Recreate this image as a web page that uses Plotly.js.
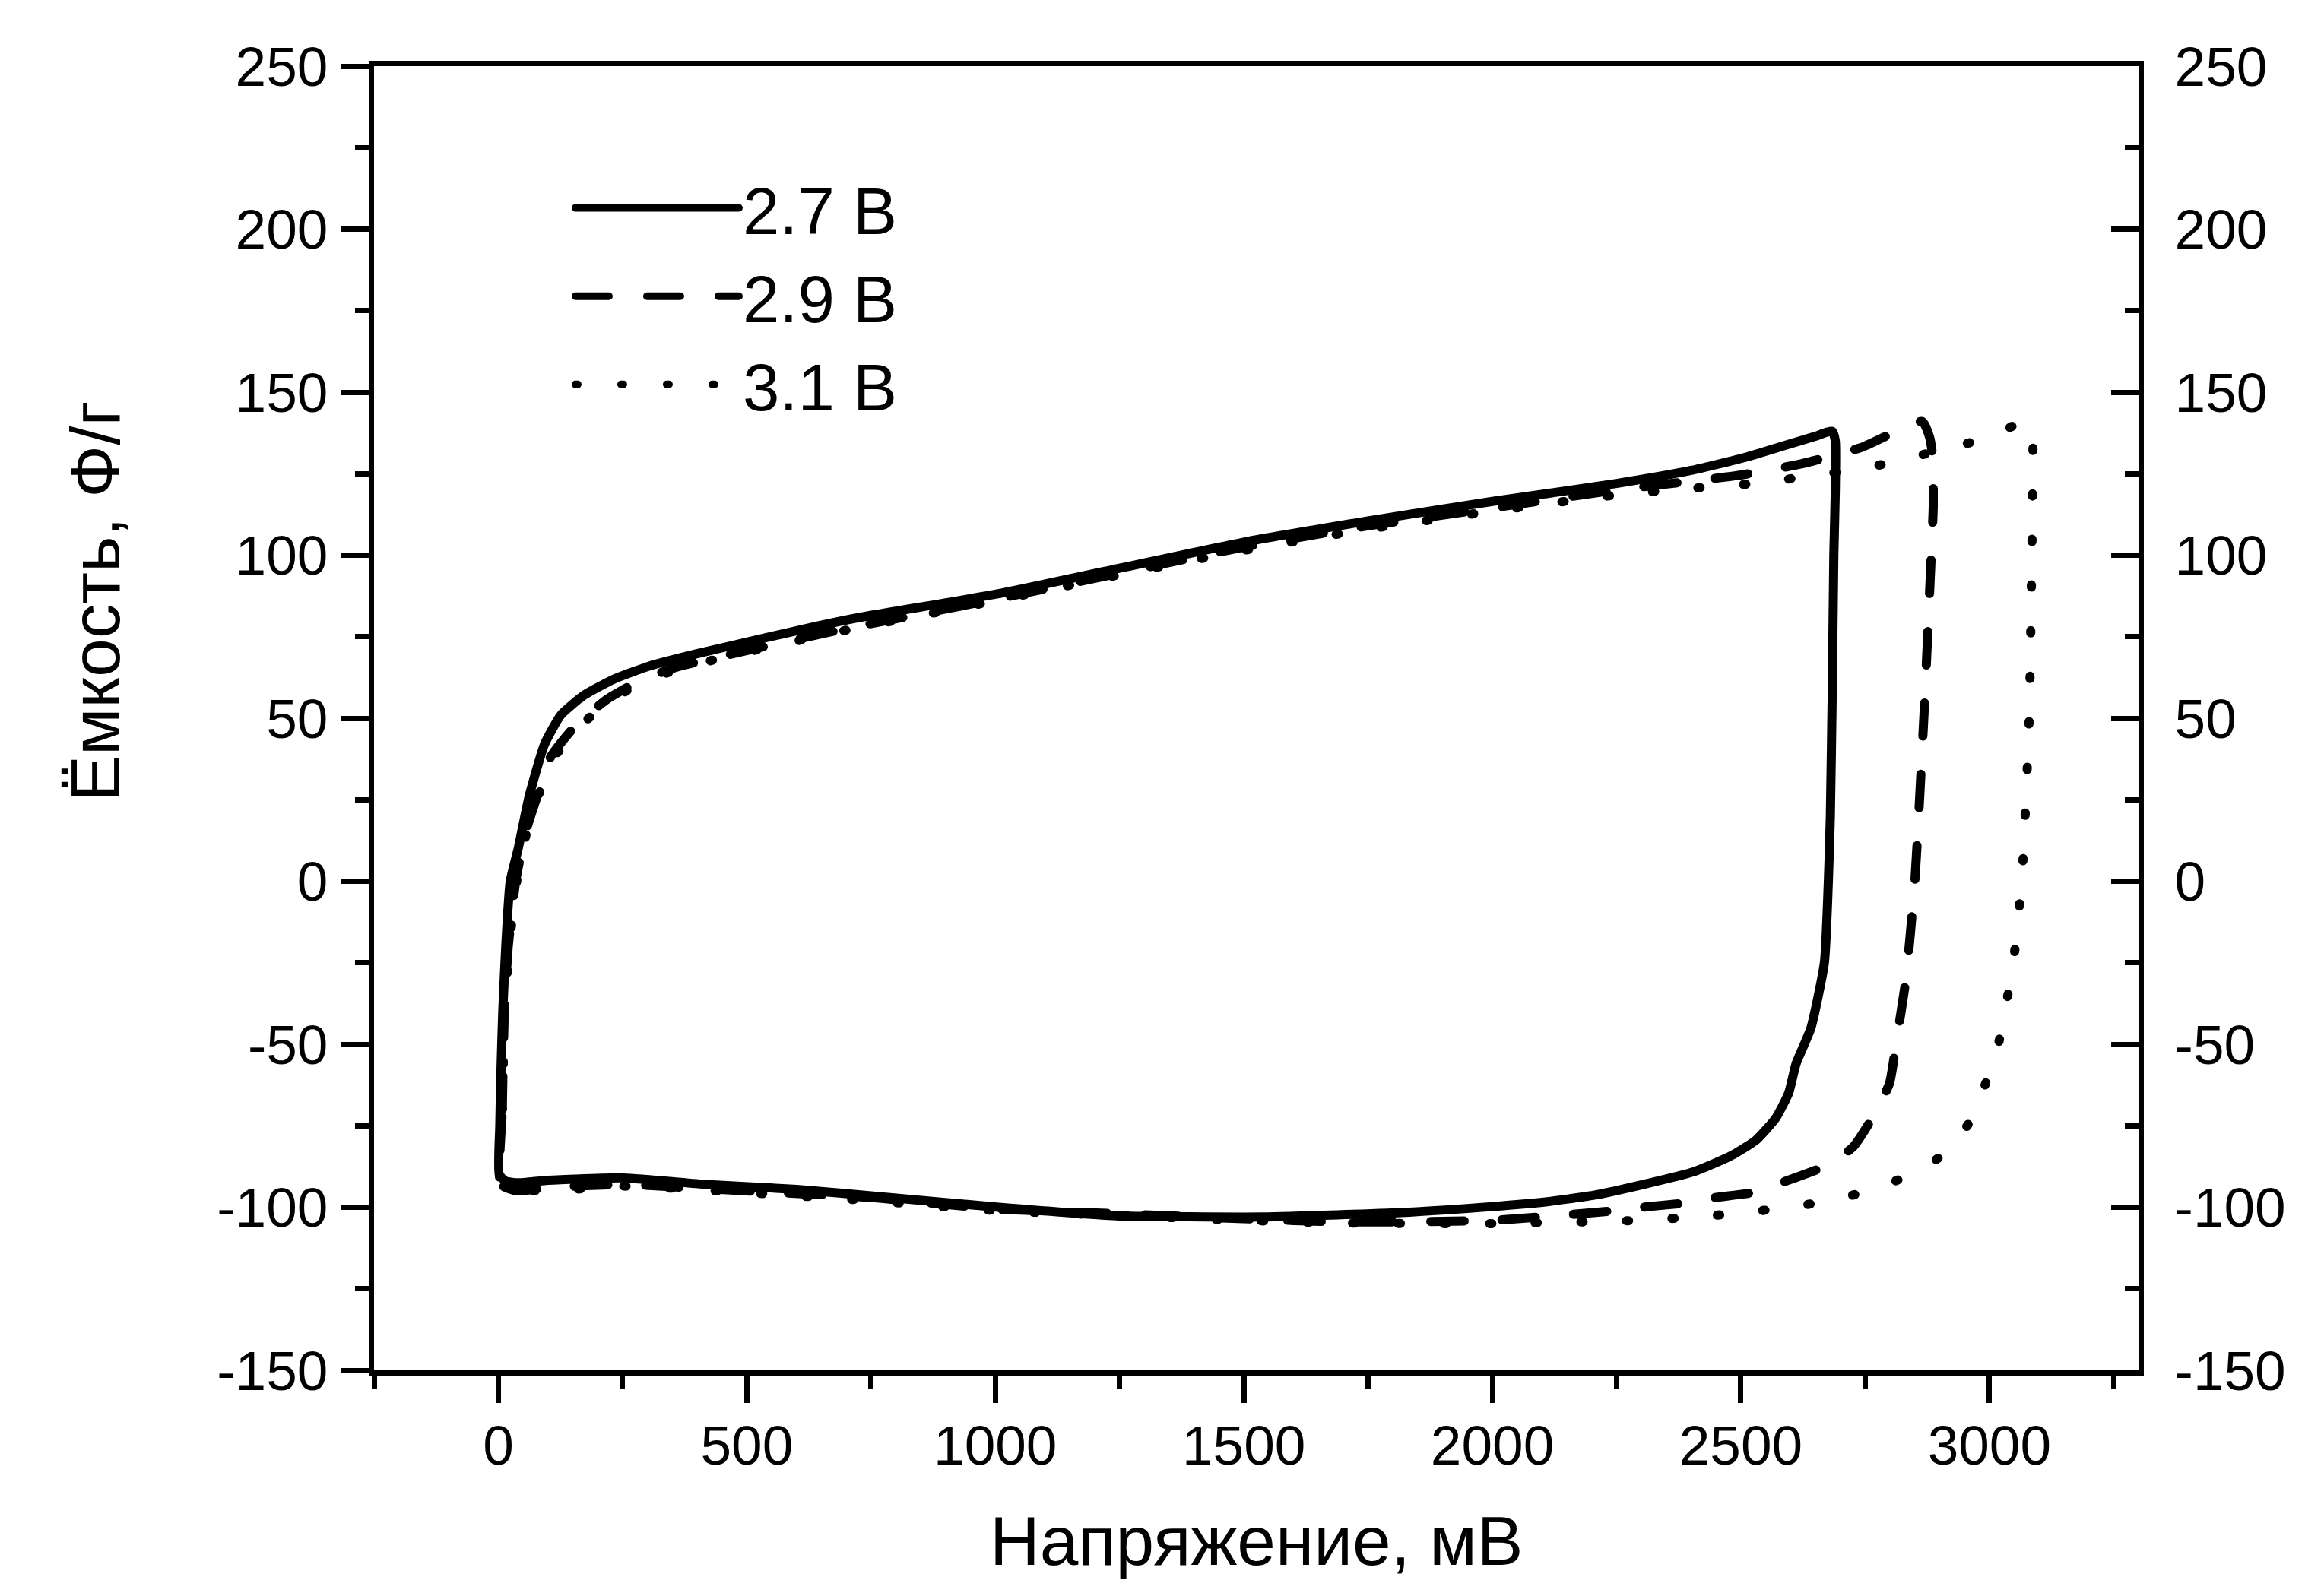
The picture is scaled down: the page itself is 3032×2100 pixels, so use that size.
<!DOCTYPE html>
<html>
<head>
<meta charset="utf-8">
<script src="https://cdn.plot.ly/plotly-3.0.1.min.js"></script>
<style>
  html, body { margin: 0; padding: 0; background: #fff; }
  #chart { width: 3032px; height: 2100px; }
  .scatterlayer .js-line, .legend .js-line { stroke-linecap: round !important; stroke-linejoin: round !important; }
</style>
</head>
<body>
<div id="chart"></div>
<script>
// ---- Data ----
const seriesNames = ["2.7 В", "2.9 В", "3.1 В"];

// 2.7 V loop: voltage (mV) and capacitance (F/g)
const v27 = [2, 3, 5, 9, 15, 24, 40, 62, 93, 126, 172, 233, 304, 395, 507, 634, 730, 1000, 1250, 1500, 1750, 2000, 2250, 2400, 2509, 2585, 2650, 2684,
  2690, 2690, 2687, 2684, 2680, 2676, 2668, 2641, 2611, 2596, 2570, 2529, 2479, 2407, 2306, 2204, 2100, 2000, 1833, 1538, 1243, 1007, 771, 600, 418, 253, 100, 40, 15, 2];
const c27 = [-90, -75, -60, -40, -20, 0, 10, 26, 42, 51, 57, 62, 66, 69.6, 73.6, 78, 81, 88, 96, 104, 110.5, 116.5, 122, 126, 130, 133.5, 136.5, 138,
  135, 120, 100, 60, 20, 0, -25, -45, -56, -65, -72.7, -79.6, -84.3, -89, -92.9, -96.3, -98.5, -99.8, -101.5, -103, -102.6, -100, -96.8, -94.5, -93, -91, -91.7, -92.5, -92, -90];

// 2.9 V loop
const v29 = [5, 8, 12, 20, 35, 55, 78, 105, 157, 218, 279, 355, 450, 550, 700, 1000, 1250, 1500, 1750, 2000, 2250, 2500, 2621, 2742, 2865,
  2880, 2886, 2887, 2883, 2868, 2850, 2832, 2812, 2799, 2764, 2727, 2682, 2590, 2520, 2448, 2387, 2314, 2250, 2000, 1700, 1500, 1250, 1000, 750, 500, 250, 100, 40, 5];
const c29 = [-93, -70, -40, -20, 0, 15, 26, 38, 48, 55.7, 61, 65.5, 69, 72.5, 77.5, 86.5, 94.5, 102.5, 109, 114.5, 120, 124.6, 128, 133, 141,
  136, 130, 115, 100, 50, 0, -30, -50, -62, -72.7, -81.3, -86.6, -92, -95.6, -97, -98.7, -99.8, -101, -104, -104.5, -103.5, -102, -100.5, -97, -95, -93, -94, -95, -93];

// 3.1 V loop
const v31 = [5, 8, 13, 22, 37, 57, 80, 108, 160, 222, 283, 360, 450, 550, 700, 1000, 1250, 1500, 1750, 2000, 2250, 2400, 2552, 2639, 2723, 2802, 2916, 2997, 3072,
  3086, 3087, 3086, 3080, 3065, 3048, 3018, 2990, 2971, 2951, 2903, 2840, 2768, 2692, 2608, 2484, 2402, 2296, 2000, 1700, 1500, 1250, 1000, 750, 500, 250, 100, 30, 5];
const c31 = [-94, -70, -40, -20, 0, 15, 26, 37, 47, 55, 60.5, 65, 68.5, 72, 77, 86, 94, 101.5, 108, 113.5, 118.5, 120.5, 122.3, 124.4, 126, 128.4, 132.8, 136, 141,
  138, 125.4, 108, 50, 0, -25, -50, -63, -71.3, -75.9, -84.3, -90, -94.5, -97.5, -99.8, -102, -103, -104, -105, -104.8, -104, -102.5, -101, -98, -95.5, -93.5, -95, -94.5, -94];

// Axis tick values
const xTicks = [0, 500, 1000, 1500, 2000, 2500, 3000];
const yTicks = [-150, -100, -50, 0, 50, 100, 150, 200, 250];

const FONT = '"Liberation Sans", Arial, sans-serif';
const LW = 12;
const SHAPE = 'spline', SMOOTH = 0.5;

const traces = [
  { x: v27, y: c27, name: seriesNames[0], mode: 'lines', line: { color: '#000', width: LW, dash: 'solid', shape: SHAPE, smoothing: SMOOTH } },
  { x: v29, y: c29, name: seriesNames[1], mode: 'lines', line: { color: '#000', width: LW, dash: '44px,50px', shape: SHAPE, smoothing: SMOOTH } },
  { x: v31, y: c31, name: seriesNames[2], mode: 'lines', yaxis: 'y2', line: { color: '#000', width: LW, dash: '3px,57px', shape: SHAPE, smoothing: SMOOTH } }
];

const tickFont = { family: FONT, size: 73, color: '#000' };

const layout = {
  width: 3032, height: 2100,
  paper_bgcolor: '#fff', plot_bgcolor: '#fff',
  margin: { l: 492, r: 219, t: 87, b: 297, pad: 0 },
  showlegend: true,
  legend: {
    x: 0.112, y: 0.928, xanchor: 'left', yanchor: 'top',
    bgcolor: 'rgba(0,0,0,0)', borderwidth: 0,
    font: { family: FONT, size: 87, color: '#000' },
    itemwidth: 215, tracegroupgap: 0
  },
  xaxis: {
    range: [-250, 3300], tickvals: xTicks, ticktext: xTicks.map(String),
    showline: true, linecolor: '#000', linewidth: 7, mirror: true,
    ticks: 'outside', ticklen: 36, tickwidth: 7, tickcolor: '#000',
    minor: { ticks: 'outside', ticklen: 18, tickwidth: 7, tickcolor: '#000', dtick: 250, tick0: 0, showgrid: false },
    showgrid: false, zeroline: false, tickfont: tickFont, ticklabelstandoff: -7
  },
  yaxis: {
    range: [-150, 250], tickvals: yTicks, ticktext: yTicks.map(String),
    showline: true, linecolor: '#000', linewidth: 7,
    ticks: 'outside', ticklen: 36, tickwidth: 7, tickcolor: '#000',
    minor: { ticks: 'outside', ticklen: 18, tickwidth: 7, tickcolor: '#000', dtick: 25, tick0: 0, showgrid: false },
    showgrid: false, zeroline: false, tickfont: tickFont, ticklabelstandoff: 3
  },
  yaxis2: {
    overlaying: 'y', side: 'right', anchor: 'x',
    range: [-150, 250], tickvals: yTicks, ticktext: yTicks.map(String),
    showline: true, linecolor: '#000', linewidth: 7,
    ticks: 'inside', ticklen: 36, tickwidth: 7, tickcolor: '#000',
    minor: { ticks: 'inside', ticklen: 18, tickwidth: 7, tickcolor: '#000', dtick: 25, tick0: 0, showgrid: false },
    showgrid: false, zeroline: false, tickfont: tickFont, ticklabelstandoff: 26
  },
  annotations: [
    { text: 'Напряжение, мВ', xref: 'paper', yref: 'paper', x: 0.5, y: -0.1306, xanchor: 'center', yanchor: 'middle',
      showarrow: false, font: { family: FONT, size: 91, color: '#000' } },
    { text: 'Ёмкость, Ф/г', xref: 'paper', yref: 'paper', x: -0.158, y: 0.59, xanchor: 'center', yanchor: 'middle',
      textangle: -90, showarrow: false, font: { family: FONT, size: 91, color: '#000' } }
  ]
};

Plotly.newPlot('chart', traces, layout, { staticPlot: true, displayModeBar: false });
</script>
</body>
</html>
